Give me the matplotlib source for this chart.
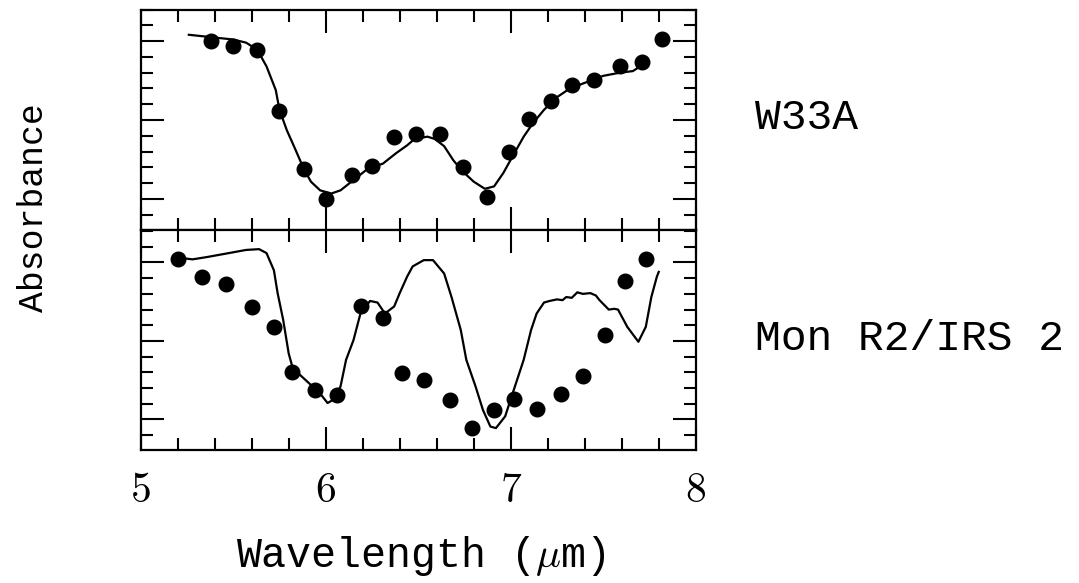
import numpy as np
import matplotlib
matplotlib.use("Agg")
import matplotlib.pyplot as plt
from matplotlib.ticker import MultipleLocator, FixedLocator, FixedFormatter

plt.rcParams['mathtext.fontset'] = 'cm'

# W33A: observed points and lab fit
w33_pts_x = [5.38, 5.50, 5.63, 5.75, 5.88, 6.00, 6.14, 6.25, 6.37, 6.49, 6.62,
             6.74, 6.87, 6.99, 7.10, 7.22, 7.33, 7.45, 7.59, 7.71, 7.82]
w33_pts_y = [3.00, 2.94, 2.89, 2.11, 1.38, 1.00, 1.30, 1.42, 1.78, 1.82, 1.82,
             1.40, 1.02, 1.60, 2.01, 2.24, 2.45, 2.51, 2.68, 2.74, 3.03]
w33_fit_x = [5.26, 5.38, 5.50, 5.57, 5.63, 5.68, 5.73, 5.75, 5.79, 5.83, 5.88,
             5.92, 5.97, 6.03, 6.08, 6.15, 6.22, 6.31, 6.38, 6.44, 6.48, 6.55,
             6.59, 6.64, 6.69, 6.74, 6.80, 6.86, 6.91, 6.96, 7.01, 7.07, 7.12,
             7.18, 7.25, 7.32, 7.41, 7.50, 7.59, 7.66, 7.70]
w33_fit_y = [3.08, 3.05, 3.02, 2.98, 2.89, 2.68, 2.38, 2.13, 1.87, 1.66, 1.39,
             1.22, 1.11, 1.07, 1.11, 1.24, 1.37, 1.45, 1.58, 1.68, 1.76, 1.79,
             1.76, 1.67, 1.49, 1.35, 1.22, 1.13, 1.16, 1.33, 1.54, 1.79, 1.96,
             2.13, 2.29, 2.40, 2.48, 2.56, 2.60, 2.62, 2.68]

# Mon R2/IRS 2
mon_pts_x = [5.20, 5.33, 5.46, 5.60, 5.72, 5.82, 5.94, 6.06, 6.19, 6.31, 6.41,
             6.53, 6.67, 6.79, 6.91, 7.02, 7.14, 7.27, 7.39, 7.51, 7.62, 7.73]
mon_pts_y = [3.04, 2.81, 2.72, 2.43, 2.18, 1.61, 1.38, 1.31, 2.45, 2.29, 1.59,
             1.50, 1.25, 0.89, 1.12, 1.26, 1.13, 1.33, 1.56, 2.08, 2.76, 3.05]
mon_fit_x = [5.21, 5.28, 5.36, 5.43, 5.50, 5.57, 5.64, 5.68, 5.72, 5.74, 5.77,
             5.80, 5.82, 5.86, 5.92, 5.97, 6.01, 6.04, 6.08, 6.11, 6.15, 6.19,
             6.24, 6.28, 6.32, 6.37, 6.40, 6.44, 6.47, 6.53, 6.58, 6.64, 6.68,
             6.73, 6.76, 6.81, 6.85, 6.89, 6.92, 6.97, 7.01, 7.07, 7.11, 7.14,
             7.18, 7.21, 7.25, 7.28, 7.30, 7.33, 7.36, 7.39, 7.43, 7.46, 7.48,
             7.53, 7.56, 7.58, 7.63, 7.69, 7.73, 7.76, 7.79, 7.80]
mon_fit_y = [3.06, 3.04, 3.07, 3.10, 3.13, 3.16, 3.17, 3.12, 2.90, 2.61, 2.27,
             1.84, 1.67, 1.57, 1.44, 1.33, 1.21, 1.25, 1.42, 1.76, 2.01, 2.37,
             2.51, 2.49, 2.35, 2.44, 2.61, 2.82, 2.95, 3.03, 3.03, 2.86, 2.56,
             2.14, 1.76, 1.42, 1.12, 0.91, 0.89, 1.04, 1.33, 1.76, 2.14, 2.35,
             2.49, 2.51, 2.53, 2.52, 2.56, 2.55, 2.62, 2.60, 2.61, 2.58, 2.52,
             2.40, 2.41, 2.40, 2.18, 1.99, 2.18, 2.56, 2.82, 2.88]

xticks = [5, 6, 7, 8]
xticklabels = ['$5$', '$6$', '$7$', '$8$']

fig = plt.figure(figsize=(10.79, 5.83), dpi=100)
ax1 = fig.add_axes([0.1304, 0.6063, 0.5144, 0.3774])
ax2 = fig.add_axes([0.1304, 0.2281, 0.5144, 0.3782])

for ax in (ax1, ax2):
    ax.set_xlim(5, 8)
    ax.xaxis.set_major_locator(FixedLocator(xticks))
    ax.xaxis.set_minor_locator(MultipleLocator(0.2))
    ax.yaxis.set_major_locator(MultipleLocator(1))
    ax.yaxis.set_minor_locator(MultipleLocator(0.2))
    ax.tick_params(which='both', direction='in', top=True, right=True,
                   width=1.5, labelleft=False)
    ax.tick_params(which='major', length=16.5)
    ax.tick_params(which='minor', length=8.5)
    for s in ax.spines.values():
        s.set_linewidth(1.6)

ax1.set_ylim(0.614, 3.40)
ax2.set_ylim(0.611, 3.42)
ax1.tick_params(labelbottom=False)

ax1.plot(w33_fit_x, w33_fit_y, color='black', lw=1.6)
ax1.plot(w33_pts_x, w33_pts_y, 'o', color='black', ms=10.5)
ax2.plot(mon_fit_x, mon_fit_y, color='black', lw=1.6)
ax2.plot(mon_pts_x, mon_pts_y, 'o', color='black', ms=10.5)

ax2.xaxis.set_major_formatter(FixedFormatter(xticklabels))
ax2.tick_params(axis='x', which='major', labelsize=30, pad=14)

mono = 'Liberation Mono'
fig.text(0.031, 0.644, 'Absorbance', rotation=90, ha='center', va='center',
         family=mono, fontsize=25)
fig.text(0.3899, 0.0274, r'Wavelength ($\mu$m)', ha='center', va='baseline',
         family=mono, fontsize=30)
fig.text(0.6997, 0.778, 'W33A', ha='left', va='baseline', family=mono, fontsize=31)
fig.text(0.6997, 0.3997, 'Mon R2/IRS 2', ha='left', va='baseline', family=mono, fontsize=31)

fig.savefig('out.png', dpi=100)
